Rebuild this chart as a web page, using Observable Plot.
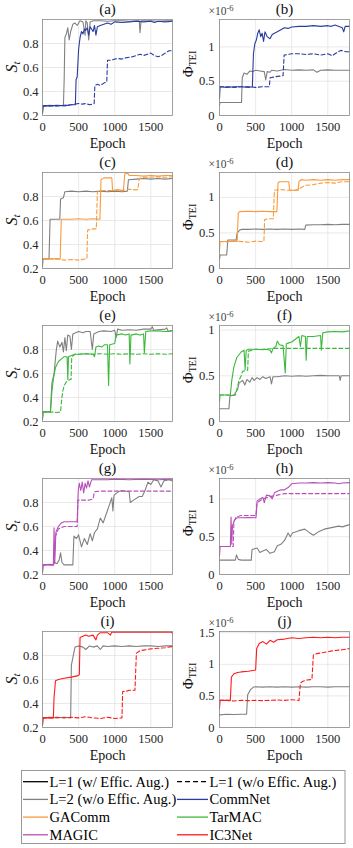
<!DOCTYPE html>
<html>
<head>
<meta charset="utf-8">
<script src="https://cdn.jsdelivr.net/npm/d3@7"></script>
<script src="https://cdn.jsdelivr.net/npm/@observablehq/plot@0.6"></script>
<style>
  html, body { margin: 0; padding: 0; background: #fff; }
  #wrap { position: relative; width: 353px; height: 848px; overflow: hidden; background: #fff; }
  #wrap > svg { position: absolute; }
</style>
</head>
<body>
<div id="wrap"></div>
<script>
// ---------- ticks ----------
const epochTicks = [0, 500, 1000, 1500];
const sTicks = [0.2, 0.4, 0.6, 0.8];
const phiTicks = [0, 0.5, 1];
const phiTicksJ = [0, 0.5, 1, 1.5];

// ---------- legend ----------
const legendLabels = ["L=1 (w/ Effic. Aug.)", "L=1 (w/o Effic. Aug.)", "L=2 (w/o Effic. Aug.)", "CommNet", "GAComm", "TarMAC", "MAGIC", "IC3Net"];
const legendColors = ["#000000", "#000000", "#808080", "#2b3c9e", "#f99a3c", "#3cb83c", "#b84fb8", "#ff1a1a"];
const legendDashed = [false, true, false, false, false, false, false, false];

// ---------- data: [epoch, value] ----------
// (a) CommNet S_t
const a_L2 = [[0,0.22],[8,0.28],[100,0.285],[200,0.28],[290,0.285],[300,0.5],[310,0.85],[330,0.88],[350,0.93],[370,0.83],[390,0.9],[420,0.96],[450,0.97],[480,0.95],[520,0.99],[560,0.98],[590,0.87],[600,0.99],[620,0.97],[640,0.83],[660,0.98],[700,0.99],[800,0.99],[900,0.985],[1000,0.99],[1100,0.99],[1200,0.985],[1300,0.99],[1340,0.99],[1350,0.89],[1365,0.99],[1500,0.99],[1600,0.985],[1700,0.99],[1800,0.99]];
const a_L1w = [[0,0.22],[8,0.28],[100,0.28],[200,0.285],[300,0.28],[400,0.29],[455,0.29],[465,0.5],[480,0.52],[500,0.75],[520,0.85],[540,0.9],[560,0.88],[580,0.92],[600,0.91],[620,0.93],[640,0.87],[660,0.94],[700,0.9],[720,0.95],[740,0.87],[760,0.94],[800,0.95],[850,0.96],[900,0.97],[950,0.96],[1000,0.98],[1100,0.975],[1200,0.98],[1300,0.985],[1400,0.98],[1500,0.985],[1550,0.975],[1600,0.985],[1700,0.98],[1800,0.985]];
const a_L1wo = [[0,0.28],[100,0.28],[200,0.28],[300,0.285],[400,0.29],[500,0.3],[550,0.295],[600,0.3],[650,0.29],[700,0.295],[715,0.3],[725,0.45],[760,0.46],[800,0.45],[850,0.47],[890,0.48],[900,0.66],[950,0.66],[1000,0.67],[1050,0.675],[1100,0.67],[1150,0.68],[1200,0.685],[1250,0.69],[1300,0.7],[1350,0.71],[1400,0.7],[1450,0.71],[1500,0.72],[1550,0.7],[1600,0.69],[1650,0.7],[1700,0.72],[1750,0.74],[1800,0.74]];
// (b) CommNet Phi
const b_L2 = [[0,0.15],[8,0.19],[100,0.19],[200,0.19],[305,0.19],[315,0.55],[340,0.62],[380,0.6],[420,0.65],[460,0.64],[500,0.66],[560,0.65],[620,0.64],[640,0.52],[660,0.64],[700,0.63],[720,0.66],[800,0.65],[900,0.67],[1000,0.66],[1100,0.665],[1200,0.66],[1300,0.665],[1350,0.63],[1400,0.66],[1500,0.665],[1600,0.66],[1700,0.66],[1800,0.66]];
const b_L1w = [[0,0.25],[8,0.42],[100,0.41],[200,0.42],[300,0.42],[400,0.41],[455,0.42],[470,0.9],[490,1.05],[510,1.1],[530,1.2],[550,1.25],[570,1.15],[590,1.2],[610,1.08],[630,1.22],[660,1.15],[700,1.12],[730,1.18],[760,1.2],[800,1.22],[850,1.25],[900,1.28],[950,1.27],[1000,1.29],[1100,1.3],[1200,1.3],[1300,1.31],[1400,1.3],[1500,1.31],[1550,1.3],[1600,1.32],[1700,1.28],[1720,1.22],[1740,1.3],[1800,1.3]];
const b_L1wo = [[0,0.42],[100,0.42],[200,0.41],[300,0.42],[400,0.42],[500,0.41],[600,0.42],[690,0.42],[700,0.55],[750,0.56],[800,0.57],[880,0.58],[895,0.88],[950,0.89],[1000,0.9],[1100,0.9],[1200,0.89],[1300,0.9],[1400,0.88],[1500,0.9],[1560,0.87],[1600,0.9],[1680,0.95],[1750,0.93],[1800,0.93]];
// (c) GAComm S_t
const c_L2 = [[0,0.22],[8,0.28],[90,0.28],[105,0.61],[240,0.61],[250,0.78],[290,0.79],[310,0.84],[400,0.845],[500,0.84],[600,0.845],[700,0.84],[800,0.845],[900,0.84],[1000,0.845],[1100,0.84],[1175,0.845],[1190,0.94],[1300,0.945],[1400,0.95],[1500,0.945],[1600,0.95],[1700,0.945],[1800,0.95]];
const c_L1w = [[0,0.28],[100,0.28],[200,0.28],[245,0.28],[260,0.61],[400,0.61],[500,0.615],[600,0.61],[700,0.615],[795,0.61],[810,0.94],[850,0.955],[960,0.955],[970,0.85],[1050,0.855],[1120,0.85],[1140,0.99],[1180,0.995],[1200,0.975],[1300,0.975],[1400,0.97],[1500,0.975],[1600,0.97],[1700,0.975],[1800,0.975]];
const c_L1wo = [[0,0.28],[100,0.28],[200,0.28],[300,0.27],[400,0.275],[500,0.27],[600,0.28],[615,0.28],[625,0.52],[700,0.53],[745,0.53],[760,0.84],[850,0.85],[950,0.85],[1050,0.855],[1100,0.85],[1200,0.86],[1300,0.855],[1320,0.86],[1340,0.95],[1400,0.96],[1500,0.96],[1600,0.965],[1700,0.96],[1800,0.965]];
// (d) GAComm Phi
const d_L2 = [[0,0.13],[8,0.19],[100,0.19],[115,0.4],[230,0.4],[245,0.5],[280,0.54],[310,0.55],[400,0.55],[500,0.555],[600,0.55],[700,0.555],[800,0.55],[900,0.555],[1000,0.55],[1100,0.555],[1180,0.55],[1195,0.61],[1300,0.615],[1400,0.615],[1500,0.62],[1600,0.615],[1700,0.62],[1800,0.62]];
const d_L1w = [[0,0.25],[8,0.38],[100,0.38],[200,0.385],[245,0.38],[260,0.78],[280,0.8],[400,0.805],[500,0.8],[600,0.805],[700,0.8],[795,0.8],[810,1.2],[830,1.22],[960,1.22],[970,1.1],[1050,1.1],[1090,1.1],[1100,1.22],[1130,1.25],[1200,1.24],[1300,1.25],[1400,1.24],[1500,1.25],[1600,1.24],[1700,1.25],[1800,1.25]];
const d_L1wo = [[0,0.38],[100,0.375],[200,0.385],[300,0.38],[400,0.37],[500,0.385],[600,0.38],[615,0.38],[625,0.69],[700,0.7],[745,0.7],[760,1.1],[850,1.11],[950,1.1],[1050,1.1],[1100,1.12],[1150,1.15],[1200,1.17],[1300,1.18],[1400,1.2],[1500,1.21],[1600,1.2],[1700,1.22],[1800,1.22]];
// (e) TarMAC S_t
const e_L2 = [[0,0.22],[8,0.28],[110,0.28],[130,0.52],[160,0.6],[190,0.79],[210,0.87],[240,0.82],[270,0.86],[290,0.78],[310,0.9],[330,0.79],[350,0.92],[380,0.91],[400,0.8],[420,0.93],[460,0.94],[500,0.95],[560,0.94],[600,0.95],[660,0.95],[690,0.8],[710,0.93],[780,0.95],[850,0.955],[950,0.95],[1000,0.96],[1020,0.9],[1040,0.97],[1100,0.96],[1200,0.965],[1300,0.96],[1400,0.97],[1500,0.97],[1520,0.99],[1540,0.96],[1600,0.965],[1700,0.97],[1720,0.98],[1740,0.95],[1800,0.96]];
const e_L1w = [[0,0.22],[8,0.28],[110,0.28],[130,0.45],[150,0.55],[180,0.65],[220,0.7],[260,0.72],[300,0.74],[340,0.74],[350,0.55],[360,0.74],[400,0.75],[450,0.76],[500,0.76],[600,0.765],[700,0.76],[720,0.74],[740,0.82],[780,0.83],[820,0.82],[860,0.84],[900,0.84],[915,0.5],[930,0.84],[1000,0.85],[1020,0.92],[1100,0.93],[1150,0.92],[1200,0.93],[1210,0.68],[1225,0.92],[1300,0.93],[1350,0.92],[1400,0.93],[1410,0.77],[1430,0.95],[1500,0.955],[1600,0.955],[1700,0.95],[1800,0.955]];
const e_L1wo = [[0,0.28],[100,0.28],[200,0.275],[250,0.28],[265,0.38],[280,0.45],[300,0.5],[330,0.53],[380,0.55],[395,0.55],[405,0.74],[450,0.76],[500,0.76],[600,0.765],[700,0.76],[800,0.765],[900,0.76],[1000,0.765],[1100,0.76],[1200,0.765],[1300,0.76],[1400,0.765],[1500,0.76],[1600,0.765],[1700,0.76],[1800,0.765]];
// (f) TarMAC Phi
const f_L2 = [[0,0.14],[8,0.14],[130,0.14],[145,0.28],[200,0.29],[250,0.35],[270,0.42],[320,0.45],[350,0.4],[380,0.46],[420,0.43],[450,0.48],[480,0.45],[520,0.48],[560,0.46],[600,0.49],[640,0.47],[700,0.49],[720,0.41],[740,0.49],[800,0.49],[900,0.5],[1000,0.495],[1100,0.5],[1200,0.495],[1300,0.5],[1400,0.505],[1500,0.5],[1600,0.5],[1660,0.5],[1670,0.45],[1685,0.5],[1800,0.5]];
const f_L1w = [[0,0.22],[8,0.29],[150,0.29],[170,0.45],[200,0.6],[240,0.7],[300,0.76],[340,0.78],[355,0.57],[370,0.78],[400,0.79],[500,0.79],[600,0.785],[650,0.79],[700,0.78],[720,0.75],[740,0.8],[780,0.82],[800,0.88],[830,0.84],[880,0.83],[910,0.53],[925,0.85],[960,0.86],[1000,0.87],[1050,0.9],[1100,0.93],[1120,0.82],[1140,0.94],[1190,0.93],[1200,0.67],[1215,0.93],[1300,0.93],[1400,0.94],[1410,0.78],[1430,0.97],[1500,0.98],[1600,0.985],[1700,0.98],[1800,0.99]];
const f_L1wo = [[0,0.29],[100,0.29],[200,0.285],[220,0.29],[240,0.35],[270,0.45],[300,0.5],[320,0.55],[390,0.56],[400,0.77],[450,0.78],[500,0.79],[600,0.79],[700,0.795],[800,0.8],[900,0.8],[1000,0.8],[1100,0.8],[1200,0.8],[1300,0.8],[1400,0.8],[1500,0.8],[1600,0.8],[1700,0.8],[1800,0.8]];
// (g) MAGIC S_t
const g_L2 = [[0,0.22],[8,0.28],[100,0.285],[150,0.28],[170,0.3],[200,0.29],[230,0.32],[250,0.38],[270,0.3],[300,0.28],[400,0.28],[420,0.28],[435,0.52],[470,0.5],[500,0.53],[540,0.43],[580,0.5],[620,0.45],[660,0.54],[690,0.48],[720,0.55],[760,0.58],[800,0.67],[840,0.63],[880,0.7],[920,0.77],[960,0.84],[975,0.73],[990,0.86],[1050,0.89],[1100,0.9],[1200,0.89],[1215,0.8],[1260,0.82],[1340,0.85],[1380,0.85],[1420,0.9],[1460,0.97],[1500,0.95],[1540,0.99],[1600,0.98],[1640,0.93],[1680,0.98],[1750,0.99],[1800,0.98]];
const g_L1w = [[0,0.22],[8,0.28],[150,0.28],[160,0.59],[170,0.3],[185,0.55],[220,0.6],[260,0.63],[300,0.64],[400,0.64],[480,0.64],[495,0.9],[510,0.96],[530,0.9],[550,0.97],[570,0.88],[590,0.96],[610,0.92],[630,0.98],[650,0.93],[680,0.99],[800,0.99],[900,0.99],[1000,0.995],[1200,0.99],[1400,0.995],[1600,0.99],[1800,0.995]];
const g_L1wo = [[0,0.28],[100,0.28],[160,0.28],[180,0.52],[220,0.58],[300,0.6],[400,0.6],[480,0.6],[490,0.82],[550,0.82],[650,0.82],[700,0.83],[720,0.89],[800,0.895],[900,0.895],[1000,0.895],[1200,0.895],[1400,0.895],[1600,0.895],[1800,0.895]];
// (h) MAGIC Phi
const h_L2 = [[0,0.19],[100,0.19],[220,0.19],[235,0.26],[260,0.2],[300,0.19],[440,0.19],[450,0.33],[520,0.35],[560,0.29],[600,0.31],[650,0.33],[700,0.28],[760,0.3],[800,0.38],[850,0.4],[900,0.45],[950,0.55],[980,0.5],[1010,0.55],[1100,0.58],[1180,0.6],[1250,0.55],[1300,0.52],[1380,0.57],[1450,0.6],[1550,0.62],[1650,0.64],[1700,0.63],[1800,0.66]];
const h_L1w = [[0,0.25],[8,0.37],[150,0.37],[160,0.76],[170,0.4],[180,0.65],[210,0.72],[240,0.75],[300,0.75],[400,0.755],[505,0.75],[520,0.97],[560,1.0],[600,1.02],[620,0.95],[650,1.05],[700,1.04],[730,1.0],[760,1.08],[800,1.1],[850,1.12],[900,1.12],[950,1.15],[1000,1.2],[1100,1.21],[1200,1.21],[1300,1.215],[1400,1.21],[1500,1.215],[1600,1.21],[1650,1.2],[1700,1.21],[1800,1.215]];
const h_L1wo = [[0,0.37],[100,0.37],[190,0.37],[200,0.7],[230,0.76],[300,0.78],[400,0.78],[505,0.78],[520,0.95],[600,1.0],[700,1.03],[800,1.05],[900,1.07],[1000,1.07],[1200,1.07],[1400,1.07],[1600,1.07],[1800,1.07]];
// (i) IC3Net S_t
const i_L2 = [[0,0.22],[8,0.28],[100,0.285],[200,0.28],[300,0.285],[390,0.28],[400,0.72],[420,0.78],[450,0.87],[500,0.88],[560,0.87],[600,0.85],[650,0.88],[700,0.87],[760,0.88],[800,0.85],[840,0.88],[900,0.875],[1000,0.88],[1100,0.875],[1200,0.88],[1300,0.875],[1400,0.88],[1500,0.88],[1600,0.875],[1700,0.88],[1800,0.88]];
const i_L1w = [[0,0.22],[8,0.28],[150,0.28],[160,0.45],[180,0.59],[220,0.6],[300,0.61],[400,0.62],[480,0.63],[510,0.64],[520,0.95],[560,0.96],[600,0.97],[640,0.96],[700,0.97],[740,0.93],[760,0.97],[800,0.99],[900,0.99],[940,0.97],[960,0.995],[1100,0.995],[1300,0.995],[1500,0.995],[1700,0.995],[1790,0.995],[1800,0.98]];
const i_L1wo = [[0,0.28],[100,0.28],[200,0.285],[300,0.28],[400,0.285],[500,0.28],[600,0.29],[700,0.28],[800,0.275],[900,0.285],[1000,0.275],[1100,0.28],[1110,0.5],[1150,0.5],[1200,0.51],[1280,0.51],[1300,0.82],[1350,0.84],[1400,0.845],[1500,0.855],[1600,0.86],[1700,0.865],[1800,0.875]];
// (j) IC3Net Phi
const j_L2 = [[0,0.2],[100,0.21],[200,0.205],[300,0.21],[375,0.21],[390,0.52],[430,0.6],[470,0.64],[500,0.645],[600,0.64],[700,0.645],[800,0.64],[900,0.645],[1000,0.64],[1100,0.645],[1200,0.64],[1300,0.645],[1400,0.645],[1500,0.64],[1600,0.645],[1700,0.645],[1800,0.645]];
const j_L1w = [[0,0.3],[8,0.43],[150,0.43],[165,0.8],[200,0.85],[250,0.87],[300,0.88],[400,0.89],[500,0.91],[515,1.25],[550,1.33],[600,1.36],[650,1.32],[700,1.38],[750,1.35],[800,1.39],[900,1.4],[1000,1.42],[1100,1.41],[1200,1.42],[1300,1.43],[1400,1.42],[1500,1.43],[1600,1.42],[1700,1.43],[1800,1.43]];
const j_L1wo = [[0,0.43],[100,0.43],[200,0.42],[300,0.43],[400,0.425],[500,0.43],[600,0.425],[700,0.43],[800,0.435],[900,0.43],[1000,0.44],[1100,0.43],[1120,0.7],[1150,0.73],[1200,0.75],[1280,0.76],[1300,1.15],[1350,1.17],[1400,1.18],[1500,1.2],[1600,1.22],[1700,1.23],[1800,1.25]];

const gray = "#808080";
const panels = [
  {t:"(a)", kind:"S", dom:[0.2,1.0], ticks:sTicks, c:legendColors[3], L2:a_L2, w:a_L1w, wo:a_L1wo},
  {t:"(b)", kind:"P", dom:[0,1.4], ticks:phiTicks, c:legendColors[3], L2:b_L2, w:b_L1w, wo:b_L1wo},
  {t:"(c)", kind:"S", dom:[0.2,1.0], ticks:sTicks, c:legendColors[4], L2:c_L2, w:c_L1w, wo:c_L1wo},
  {t:"(d)", kind:"P", dom:[0,1.35], ticks:phiTicks, c:legendColors[4], L2:d_L2, w:d_L1w, wo:d_L1wo},
  {t:"(e)", kind:"S", dom:[0.2,1.0], ticks:sTicks, c:legendColors[5], L2:e_L2, w:e_L1w, wo:e_L1wo},
  {t:"(f)", kind:"P", dom:[0,1.05], ticks:phiTicks, c:legendColors[5], L2:f_L2, w:f_L1w, wo:f_L1wo},
  {t:"(g)", kind:"S", dom:[0.2,1.0], ticks:sTicks, c:legendColors[6], L2:g_L2, w:g_L1w, wo:g_L1wo},
  {t:"(h)", kind:"P", dom:[0,1.27], ticks:phiTicks, c:legendColors[6], L2:h_L2, w:h_L1w, wo:h_L1wo},
  {t:"(i)", kind:"S", dom:[0.2,1.0], ticks:sTicks, c:legendColors[7], L2:i_L2, w:i_L1w, wo:i_L1wo},
  {t:"(j)", kind:"P", dom:[0,1.52], ticks:phiTicksJ, c:legendColors[7], L2:j_L2, w:j_L1w, wo:j_L1wo}
];

const wrap = document.getElementById("wrap");
const FONT = "'Liberation Serif', 'Times New Roman', serif";
const ROW_H = 153, MT = 19, MB = 38;
const X = d => d[0], Y = d => d[1];

panels.forEach((p, k) => {
  const col = k % 2, row = Math.floor(k / 2);
  const left = col === 0;
  const W = left ? 176 : 177;
  const ML = left ? 42 : 43, MR = 4;
  const chart = Plot.plot({
    width: W, height: ROW_H,
    marginLeft: ML, marginRight: MR, marginTop: MT, marginBottom: MB,
    x: {domain: [0, 1800], label: null},
    y: {domain: p.dom, label: null},
    style: {fontFamily: FONT, fontSize: "12.5px", color: "#262626", background: "transparent", overflow: "visible"},
    marks: [
      Plot.gridX(epochTicks, {stroke: "#e3e3e3", strokeOpacity: 1, strokeWidth: 0.8}),
      Plot.gridY(p.ticks, {stroke: "#e3e3e3", strokeOpacity: 1, strokeWidth: 0.8}),
      Plot.axisX(epochTicks, {tickSize: 0, tickPadding: 7, tickFormat: d => String(d), label: null}),
      Plot.axisY(p.ticks, {tickSize: 0, tickPadding: left ? 4 : 5, tickFormat: d => String(d), label: null}),
      Plot.line(p.L2, {x: X, y: Y, stroke: gray, strokeWidth: 1.1}),
      Plot.line(p.wo, {x: X, y: Y, stroke: p.c, strokeWidth: 1.1, strokeDasharray: "4,2.5"}),
      Plot.line(p.w, {x: X, y: Y, stroke: p.c, strokeWidth: 1.1}),
      Plot.frame({stroke: "#8a8a8a", strokeWidth: 0.8}),
      Plot.text([p.t], {frameAnchor: "top", lineAnchor: "middle", dy: -10, fontSize: 15, fill: "#111"}),
      Plot.text(["Epoch"], {frameAnchor: "bottom", lineAnchor: "middle", dy: 28, fontSize: 14, fill: "#111"})
    ]
  });
  chart.style.left = (left ? 0 : 176) + "px";
  chart.style.top = (row * ROW_H) + "px";
  const svg = d3.select(chart);
  const cy = MT + (ROW_H - MT - MB) / 2;
  if (p.kind === "S") {
    const t = svg.append("text")
      .attr("transform", `translate(17,${cy}) rotate(-90)`)
      .attr("text-anchor", "middle")
      .attr("font-family", FONT).attr("fill", "#111");
    t.append("tspan").attr("font-size", 16).attr("font-style", "italic").text("S");
    t.append("tspan").attr("font-size", 11).attr("font-style", "italic").attr("dy", 3).text("t");
  } else {
    const t = svg.append("text")
      .attr("transform", `translate(17,${cy - 3}) rotate(-90)`)
      .attr("text-anchor", "middle")
      .attr("font-family", FONT).attr("fill", "#111");
    t.append("tspan").attr("font-size", 15).text("Φ");
    t.append("tspan").attr("font-size", 10).attr("dy", 3).text("TEI");
    const e = svg.append("text")
      .attr("x", ML + 2).attr("y", 15)
      .attr("font-family", FONT).attr("fill", "#444");
    e.append("tspan").attr("font-size", 11.5).text("×10");
    e.append("tspan").attr("font-size", 8.5).attr("dy", -4.5).text("-6");
  }
  wrap.appendChild(chart);
});

// ---------- legend ----------
const leg = d3.create("svg").attr("width", 353).attr("height", 83)
  .style("left", "0px").style("top", "765px");
leg.append("rect").attr("x", 21.5).attr("y", 5.5).attr("width", 323.5).attr("height", 73)
  .attr("fill", "#fff").attr("stroke", "#999").attr("stroke-width", 1);
legendLabels.forEach((lab, i) => {
  const c = i % 2, r = Math.floor(i / 2);
  const y = 16.7 + r * 17.7;
  const x0 = c === 0 ? 23 : 177, x1 = c === 0 ? 48 : 208;
  leg.append("line").attr("x1", x0).attr("x2", x1).attr("y1", y).attr("y2", y)
    .attr("stroke", legendColors[i]).attr("stroke-width", 1.3)
    .attr("stroke-dasharray", legendDashed[i] ? "5,3" : null);
  leg.append("text").attr("x", x1 + 1.5).attr("y", y).attr("dy", "0.35em")
    .attr("font-family", FONT).attr("font-size", 14.5).attr("fill", "#000").text(lab);
});
wrap.appendChild(leg.node());
</script>
</body>
</html>
